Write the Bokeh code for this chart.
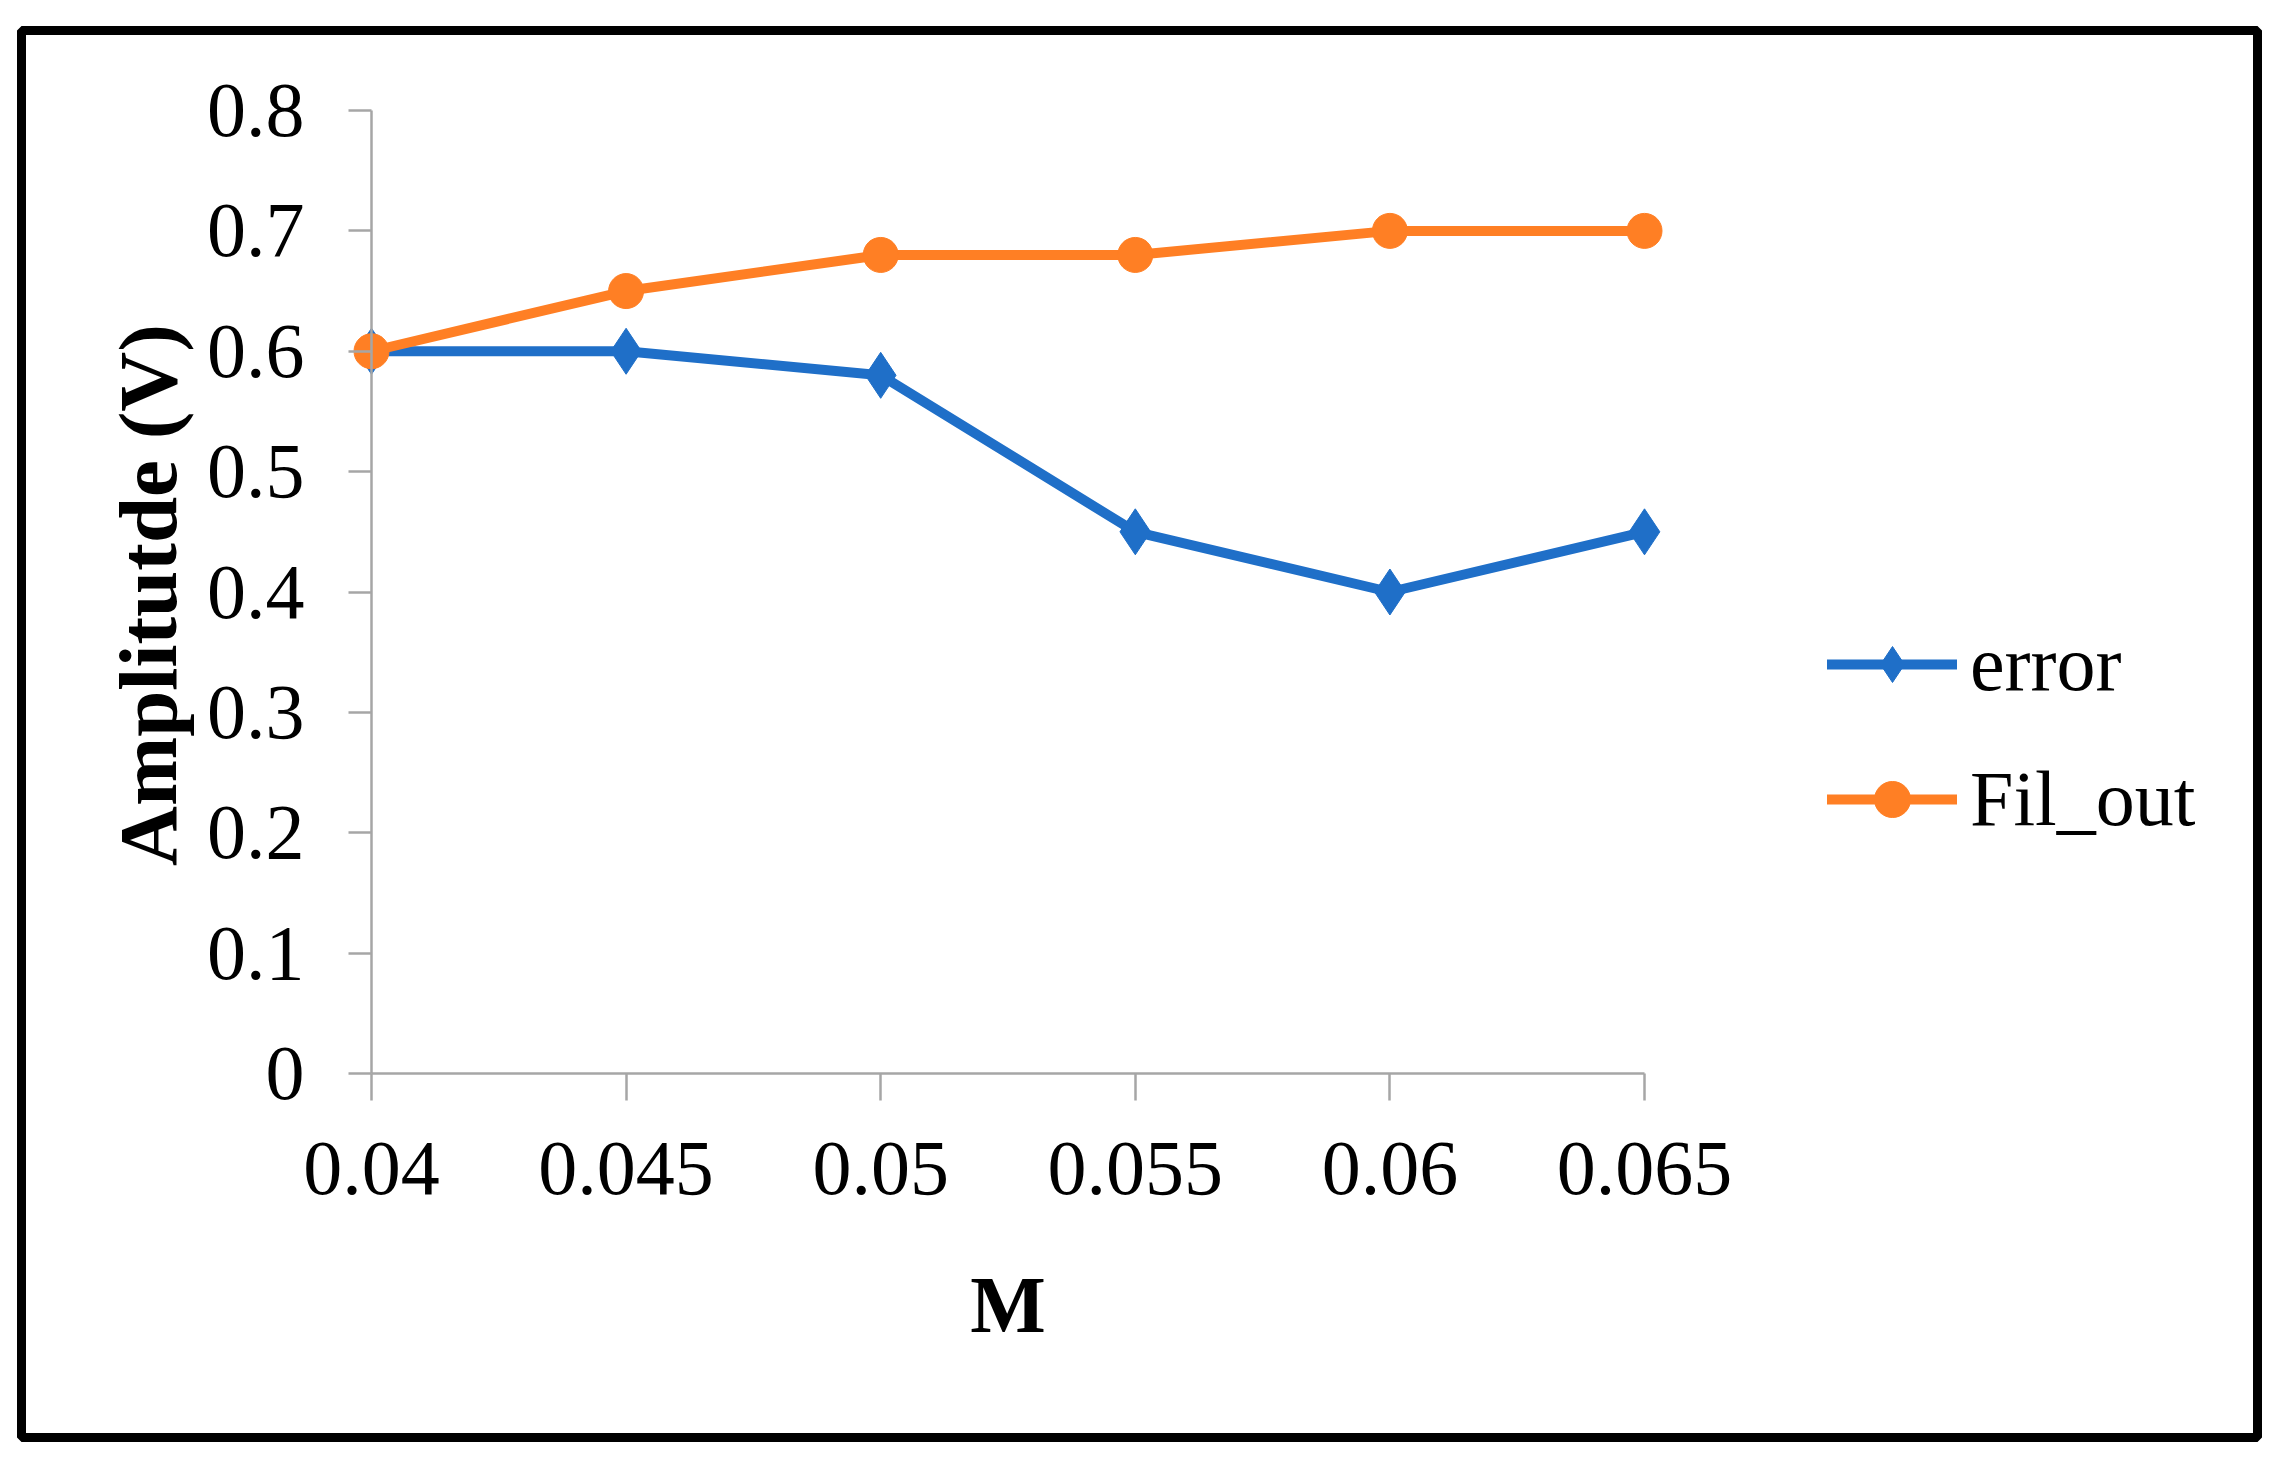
import math
from bokeh.plotting import figure
from bokeh.models import (LinearAxis, FixedTicker, PrintfTickFormatter, Range1d,
                          Legend, LegendItem, Label)
from bokeh.embed import file_html
from bokeh.resources import INLINE

# ---- data ----
m_values = [0.04, 0.045, 0.05, 0.055, 0.06, 0.065]
error_values = [0.60, 0.60, 0.58, 0.45, 0.40, 0.45]
filout_values = [0.60, 0.65, 0.68, 0.68, 0.70, 0.70]
x_ticks = [0.04, 0.045, 0.05, 0.055, 0.06, 0.065]
y_ticks = [0, 0.1, 0.2, 0.3, 0.4, 0.5, 0.6, 0.7, 0.8]
series_names = ["error", "Fil_out"]
x_title = "M"
y_title = "Amplitutde (V)"

BLUE = "#1F6FC8"
ORANGE = "#FF7F24"
AXIS_GRAY = "#A6A6A6"
FONT = "Liberation Serif"

# ---- layout (pixels, figure canvas coordinates) ----
W, H = 2264, 1453
BOX_L, BOX_R, BOX_T, BOX_B = 21, 2257, 30, 1437      # black box = plot frame
AX_X0, AX_X1 = 371, 1644                              # pixel span of x ticks
AX_Y0, AX_Y1 = 1073, 110                              # pixel span of y ticks

x_scale = (AX_X1 - AX_X0) / (x_ticks[-1] - x_ticks[0])
y_scale = (AX_Y0 - AX_Y1) / (y_ticks[-1] - y_ticks[0])
x_start = x_ticks[0] - (AX_X0 - BOX_L) / x_scale
x_end = x_ticks[-1] + (BOX_R - AX_X1) / x_scale
y_end = y_ticks[-1] + (AX_Y1 - BOX_T) / y_scale
y_start = y_ticks[0] - (BOX_B - AX_Y0) / y_scale

p = figure(width=W, height=H, output_backend="svg", toolbar_location=None,
           x_range=Range1d(x_start, x_end), y_range=Range1d(y_start, y_end),
           x_axis_type=None, y_axis_type=None,
           min_border_left=BOX_L, min_border_right=W - BOX_R,
           min_border_top=BOX_T, min_border_bottom=H - BOX_B)
p.grid.visible = False
p.outline_line_color = "black"
p.outline_line_width = 9
p.outline_line_alpha = 1
p.background_fill_color = "white"
p.border_fill_color = "white"

def style_axis(ax):
    ax.axis_line_color = AXIS_GRAY
    ax.axis_line_width = 2.5
    ax.major_tick_line_color = AXIS_GRAY
    ax.major_tick_line_width = 2.5
    ax.minor_tick_line_color = None
    ax.major_tick_in = 0
    ax.major_label_text_font = FONT
    ax.major_label_text_font_size = "78px"
    ax.major_label_text_color = "black"

xaxis = LinearAxis(ticker=FixedTicker(ticks=x_ticks),
                   formatter=PrintfTickFormatter(format="%g"),
                   bounds=(x_ticks[0], x_ticks[-1]), fixed_location=y_ticks[0])
style_axis(xaxis)
xaxis.major_tick_out = 27
xaxis.major_label_standoff = 42
p.add_layout(xaxis, "below")

yaxis = LinearAxis(ticker=FixedTicker(ticks=y_ticks),
                   formatter=PrintfTickFormatter(format="%g"),
                   bounds=(y_ticks[0], y_ticks[-1]), fixed_location=x_ticks[0])
style_axis(yaxis)
yaxis.major_tick_out = 23
yaxis.major_label_standoff = 44
p.add_layout(yaxis, "left")

# axis titles
x_mid = (x_ticks[0] + x_ticks[-1]) / 2
y_mid = (y_ticks[0] + y_ticks[-1]) / 2
p.add_layout(Label(x=x_mid, y=y_ticks[0], y_offset=-231, text=x_title,
                   text_align="center", text_baseline="alphabetic",
                   text_font=FONT, text_font_size="80px", text_font_style="bold",
                   text_color="black"))
p.add_layout(Label(x=x_ticks[0], y=y_mid, x_offset=-224, y_offset=-3, text=y_title,
                   angle=math.pi / 2,
                   text_align="center", text_baseline="alphabetic",
                   text_font=FONT, text_font_size="83px", text_font_style="bold",
                   text_color="black"))

l1 = p.line(m_values, error_values, line_color=BLUE, line_width=10, line_join="round", line_cap="round")
s1 = p.scatter(m_values, error_values, marker="diamond", size=46, fill_color=BLUE, line_color=BLUE, line_width=1)
l2 = p.line(m_values, filout_values, line_color=ORANGE, line_width=10, line_join="round", line_cap="round")
s2 = p.scatter(m_values, filout_values, marker="circle", size=35, fill_color=ORANGE, line_color=ORANGE, line_width=1)

LEG_L, LEG_T, ROW_H, ROW_GAP = 1827, 619, 90, 45
leg_h = 2 * ROW_H + ROW_GAP
legend = Legend(items=[LegendItem(label=series_names[0], renderers=[l1, s1]),
                       LegendItem(label=series_names[1], renderers=[l2, s2])],
                location=(LEG_L - BOX_L, BOX_B - (LEG_T + leg_h)), orientation="vertical",
                glyph_width=130, glyph_height=ROW_H, label_height=ROW_H,
                label_standoff=13, spacing=ROW_GAP, padding=0, margin=0,
                border_line_color=None, background_fill_alpha=0,
                label_text_font=FONT, label_text_font_size="78px",
                label_text_color="black")
p.add_layout(legend, "center")

open("out.html", "w").write(file_html(p, INLINE))
